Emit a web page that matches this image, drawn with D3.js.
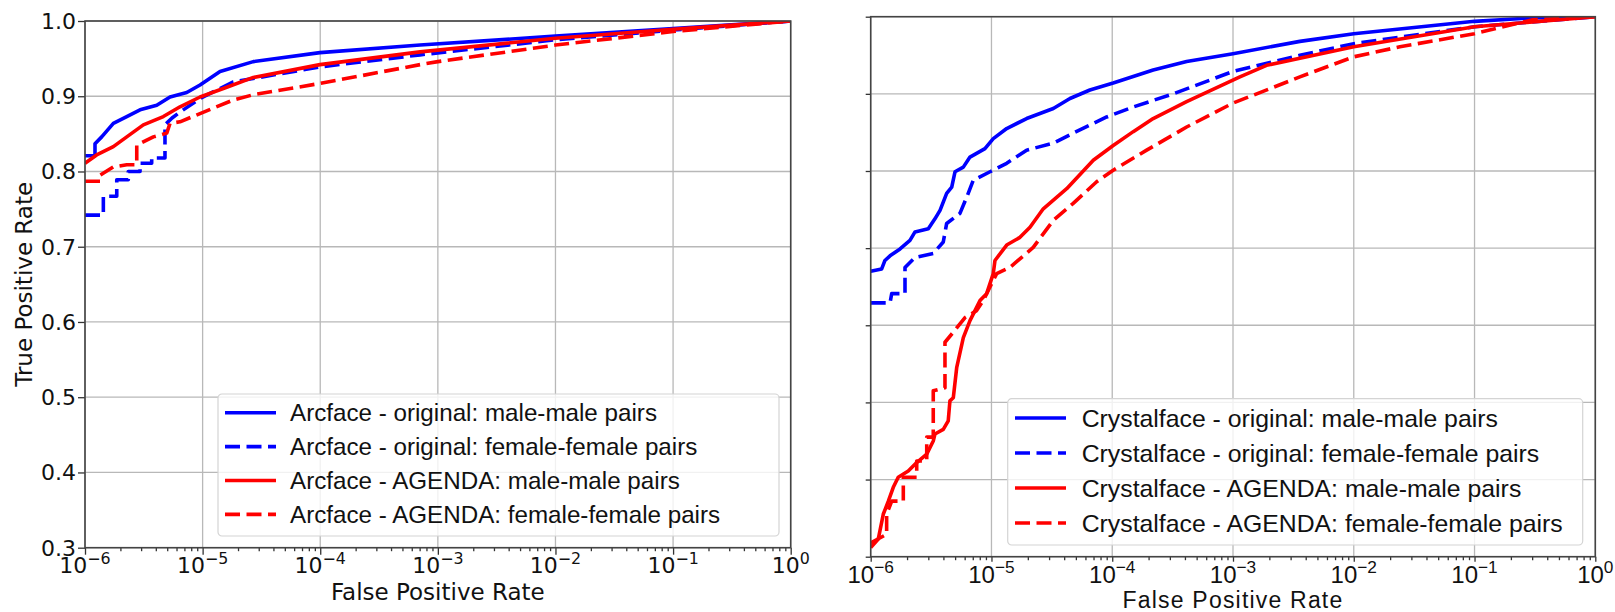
<!DOCTYPE html>
<html>
<head>
<meta charset="utf-8">
<title>ROC - Arcface / Crystalface</title>
<script src="https://d3js.org/d3.v7.min.js"></script>
<style>
  body { margin: 0; background: #fff; }
  svg { display: block; }
</style>
</head>
<body>
<div id="chart"></div>
<script>

// values, each point is [log10(FPR), TPR]
var arcOrigMale = [[-6,0.821],[-5.915,0.821],[-5.915,0.837],[-5.858,0.846],[-5.759,0.864],[-5.645,0.873],
  [-5.532,0.882],[-5.39,0.888],[-5.277,0.899],[-5.135,0.905],[-5.022,0.915],[-4.852,0.933],
  [-4.569,0.946],[-4.002,0.958],[-3.151,0.968],[-2,0.98],[-1,0.99],[0,1]];
var arcOrigFemale = [[-6,0.742],[-5.844,0.742],[-5.844,0.767],[-5.73,0.767],[-5.73,0.789],[-5.632,0.789],
  [-5.632,0.8],[-5.532,0.8],[-5.532,0.811],[-5.433,0.811],[-5.433,0.818],[-5.32,0.818],[-5.32,0.862],
  [-5.26,0.871],[-5.192,0.879],[-5.022,0.897],[-4.739,0.919],[-4.002,0.939],[-3.151,0.955],
  [-2,0.975],[-1,0.988],[0,1]];
var arcAgendaMale = [[-6,0.811],[-5.901,0.822],[-5.759,0.833],[-5.645,0.846],[-5.504,0.862],[-5.334,0.873],
  [-5.192,0.886],[-5.022,0.899],[-4.795,0.912],[-4.569,0.925],[-4.002,0.942],[-3.151,0.959],
  [-2,0.977],[-1,0.989],[0,1]];
var arcAgendaFemale = [[-6,0.787],[-5.872,0.787],[-5.872,0.795],[-5.759,0.806],[-5.645,0.809],[-5.56,0.809],
  [-5.56,0.835],[-5.419,0.846],[-5.305,0.851],[-5.277,0.864],[-5.192,0.866],[-5.022,0.877],
  [-4.739,0.895],[-4.569,0.902],[-4.002,0.917],[-3.151,0.942],[-3,0.946],[-2,0.968],[-1,0.986],[0,1]];

var crysOrigMale = [[-6,0.67],[-5.909,0.673],[-5.882,0.684],[-5.84,0.69],[-5.757,0.699],[-5.675,0.71],
  [-5.633,0.721],[-5.523,0.725],[-5.468,0.738],[-5.426,0.749],[-5.371,0.771],[-5.329,0.779],
  [-5.302,0.799],[-5.233,0.805],[-5.178,0.818],[-5.054,0.829],[-4.985,0.842],[-4.874,0.855],
  [-4.709,0.868],[-4.488,0.881],[-4.35,0.894],[-4.185,0.905],[-3.992,0.914],[-3.661,0.931],
  [-3.384,0.942],[-3,0.952],[-2.446,0.968],[-2,0.978],[-1,0.994],[-0.349,1],[0,1]];
var crysOrigFemale = [[-6,0.629],[-5.84,0.629],[-5.826,0.641],[-5.716,0.641],[-5.716,0.675],[-5.633,0.688],
  [-5.482,0.693],[-5.399,0.708],[-5.371,0.732],[-5.261,0.745],[-5.205,0.766],[-5.151,0.788],
  [-5.012,0.799],[-4.874,0.81],[-4.709,0.827],[-4.488,0.836],[-4.323,0.849],[-4.046,0.87],
  [-3.826,0.883],[-3.495,0.9],[-3,0.929],[-2.446,0.95],[-2,0.965],[-1,0.987],[0,1]];
var crysAgendaMale = [[-6,0.312],[-5.937,0.323],[-5.896,0.355],[-5.854,0.372],[-5.813,0.39],[-5.772,0.403],
  [-5.689,0.411],[-5.619,0.422],[-5.536,0.433],[-5.482,0.45],[-5.468,0.459],[-5.399,0.465],
  [-5.358,0.476],[-5.344,0.502],[-5.316,0.506],[-5.288,0.545],[-5.233,0.584],[-5.178,0.606],
  [-5.095,0.632],[-5.04,0.641],[-4.985,0.667],[-4.971,0.684],[-4.874,0.704],[-4.764,0.714],
  [-4.681,0.727],[-4.571,0.751],[-4.377,0.777],[-4.157,0.814],[-3.992,0.833],[-3.826,0.851],
  [-3.661,0.868],[-3.384,0.89],[-2.943,0.922],[-2.722,0.937],[-2,0.961],[-1,0.987],[0,1]];
var crysAgendaFemale = [[-6,0.318],[-5.868,0.329],[-5.868,0.355],[-5.826,0.372],[-5.73,0.372],[-5.73,0.403],
  [-5.619,0.403],[-5.619,0.424],[-5.536,0.424],[-5.536,0.455],[-5.482,0.455],[-5.482,0.515],
  [-5.385,0.519],[-5.385,0.578],[-5.316,0.591],[-5.219,0.61],[-5.123,0.619],[-5.068,0.632],
  [-4.957,0.667],[-4.847,0.675],[-4.654,0.701],[-4.488,0.736],[-4.323,0.758],[-4.129,0.786],
  [-3.992,0.801],[-3.715,0.827],[-3.384,0.857],[-3,0.888],[-2.446,0.922],[-2,0.948],
  [-1.618,0.961],[-1,0.978],[-0.517,0.996],[0,1]];

var arcLabels = ["Arcface - original: male-male pairs", "Arcface - original: female-female pairs",
  "Arcface - AGENDA: male-male pairs", "Arcface - AGENDA: female-female pairs"];
var crysLabels = ["Crystalface - original: male-male pairs", "Crystalface - original: female-female pairs",
  "Crystalface - AGENDA: male-male pairs", "Crystalface - AGENDA: female-female pairs"];

var xTickExps = [-6, -5, -4, -3, -2, -1, 0];
var yTickVals = [0.3, 0.4, 0.5, 0.6, 0.7, 0.8, 0.9, 1.0];
var xLabel = "False Positive Rate";
var yLabel = "True Positive Rate";

var svg = d3.select("#chart")
  .append("svg")
    .attr("width", 1615)
    .attr("height", 612);

function drawPanel(p) {
  var x = d3.scaleLog().domain([1e-6, 1]).range([0, p.width]);
  var y = d3.scaleLinear().domain([0.3, 1.0]).range([p.height, 0]);

  var g = svg.append("g")
    .attr("transform", "translate(" + p.left + "," + p.top + ")");

  g.append("clipPath").attr("id", p.id + "-clip")
    .append("rect").attr("width", p.width).attr("height", p.height);

  // grid
  g.append("g").selectAll("line").data(xTickExps).join("line")
    .attr("x1", function(e) { return x(Math.pow(10, e)); })
    .attr("x2", function(e) { return x(Math.pow(10, e)); })
    .attr("y1", 0).attr("y2", p.height)
    .attr("stroke", "#b8b8b8").attr("stroke-width", 1.3);
  g.append("g").selectAll("line").data(yTickVals).join("line")
    .attr("x1", 0).attr("x2", p.width)
    .attr("y1", function(v) { return y(v); })
    .attr("y2", function(v) { return y(v); })
    .attr("stroke", "#b8b8b8").attr("stroke-width", 1.3);

  // curves
  var line = d3.line()
    .x(function(d) { return x(Math.pow(10, d[0])); })
    .y(function(d) { return y(d[1]); });

  g.append("g").attr("clip-path", "url(#" + p.id + "-clip)")
    .selectAll("path").data(p.series).join("path")
      .attr("fill", "none")
      .attr("stroke", function(s) { return s.color; })
      .attr("stroke-width", 3.6)
      .attr("stroke-linejoin", "round")
      .attr("stroke-dasharray", function(s) { return s.dashed ? "15,6.5" : null; })
      .attr("d", function(s) { return line(s.data); });

  // axes: x with major + minor log ticks
  var xAxis = d3.axisBottom(x)
    .tickValues(xTickExps.map(function(e) { return Math.pow(10, e); }))
    .tickSize(p.tick).tickFormat("");
  g.append("g").attr("transform", "translate(0," + p.height + ")").call(xAxis);
  var minor = [];
  xTickExps.slice(0, -1).forEach(function(e) {
    for (var k = 2; k < 10; k++) minor.push(k * Math.pow(10, e));
  });
  g.append("g").attr("transform", "translate(0," + p.height + ")")
    .call(d3.axisBottom(x).tickValues(minor).tickSize(3.5).tickFormat(""));
  g.append("g").call(d3.axisLeft(y).tickValues(yTickVals).tickSize(p.tick).tickFormat(""));
  g.selectAll(".domain").remove();
  g.selectAll(".tick line").attr("stroke", "#333").attr("stroke-width", 1.3);

  // frame
  g.append("rect").attr("width", p.width).attr("height", p.height)
    .attr("fill", "none").attr("stroke", "#444").attr("stroke-width", 1.6);

  // x tick labels as 10^e
  var xl = g.append("g").selectAll("text").data(xTickExps).join("text")
    .attr("x", function(e) { return x(Math.pow(10, e)); })
    .attr("y", p.height + p.xTickBase)
    .attr("text-anchor", "middle")
    .style("font-family", p.tickFont)
    .style("font-size", p.tickSize + "px")
    .attr("fill", "#111");
  xl.append("tspan").text("10");
  xl.append("tspan")
    .attr("dy", -p.tickSize * 0.42)
    .style("font-size", (p.tickSize * 0.72) + "px")
    .text(function(e) { return e === 0 ? "0" : "\u2212" + Math.abs(e); });

  if (p.yLabels) {
    g.append("g").selectAll("text").data(yTickVals).join("text")
      .attr("x", -p.tick - 2)
      .attr("y", function(v) { return y(v); })
      .attr("dy", "0.36em")
      .attr("text-anchor", "end")
      .style("font-family", p.tickFont)
      .style("font-size", p.tickSize + "px")
      .attr("fill", "#111")
      .text(function(v) { return v.toFixed(1); });
    g.append("text")
      .attr("transform", "translate(" + (-p.left + 32) + "," + (p.height / 2) + ") rotate(-90)")
      .attr("text-anchor", "middle")
      .style("font-family", "DejaVu Sans")
      .style("font-size", "23px")
      .attr("fill", "#111")
      .text(yLabel);
  }

  g.append("text")
    .attr("x", p.width / 2)
    .attr("y", p.height + p.xLabelBase)
    .attr("text-anchor", "middle")
    .style("font-family", p.labelFont)
    .style("font-size", p.labelSize + "px")
    .style("letter-spacing", p.labelSpacing + "px")
    .attr("fill", "#111")
    .text(xLabel);

  // legend (positions relative to the legend box)
  var L = p.legend;
  var lg = g.append("g").attr("transform", "translate(" + L.x + "," + L.y + ")");
  lg.append("rect").attr("width", L.w).attr("height", L.h).attr("rx", 4)
    .attr("fill", "#fff").attr("fill-opacity", 0.8)
    .attr("stroke", "#d4d4d4").attr("stroke-width", 1.2);
  var rows = lg.selectAll("g.row").data(p.series).join("g")
    .attr("class", "row")
    .attr("transform", function(s, i) { return "translate(0," + (L.row0 + i * L.step) + ")"; });
  rows.append("line")
    .attr("x1", L.hx).attr("x2", L.hx + 51).attr("y1", 0).attr("y2", 0)
    .attr("stroke", function(s) { return s.color; })
    .attr("stroke-width", 3.6)
    .attr("stroke-dasharray", function(s) { return s.dashed ? "15,6.5" : null; });
  rows.append("text")
    .attr("x", L.tx).attr("y", 0).attr("dy", "0.36em")
    .style("font-family", "Liberation Sans")
    .style("font-size", L.font + "px")
    .attr("fill", "#111")
    .text(function(s, i) { return p.labels[i]; });
}

drawPanel({
  id: "arc", left: 85, top: 21, width: 705.7, height: 526.7, tick: 7,
  tickFont: "DejaVu Sans", tickSize: 22, xTickBase: 25.5, yLabels: true,
  labelFont: "DejaVu Sans", labelSize: 23, labelSpacing: 0, xLabelBase: 52,
  labels: arcLabels,
  series: [
    {data: arcOrigMale, color: "#0000ff", dashed: false},
    {data: arcOrigFemale, color: "#0000ff", dashed: true},
    {data: arcAgendaMale, color: "#ff0000", dashed: false},
    {data: arcAgendaFemale, color: "#ff0000", dashed: true}
  ],
  legend: {x: 133, y: 373, w: 561, h: 142, row0: 18.7, step: 33.9, hx: 7, tx: 72, font: 24.2}
});

drawPanel({
  id: "crys", left: 870.7, top: 16.7, width: 724.6, height: 540, tick: 5,
  tickFont: "Liberation Sans", tickSize: 24, xTickBase: 26.5, yLabels: false,
  labelFont: "Liberation Sans", labelSize: 23, labelSpacing: 1.2, xLabelBase: 51.5,
  labels: crysLabels,
  series: [
    {data: crysOrigMale, color: "#0000ff", dashed: false},
    {data: crysOrigFemale, color: "#0000ff", dashed: true},
    {data: crysAgendaMale, color: "#ff0000", dashed: false},
    {data: crysAgendaFemale, color: "#ff0000", dashed: true}
  ],
  legend: {x: 137, y: 382, w: 575, h: 146.3, row0: 19.3, step: 35, hx: 7.3, tx: 74, font: 24.8}
});

</script>
</body>
</html>
